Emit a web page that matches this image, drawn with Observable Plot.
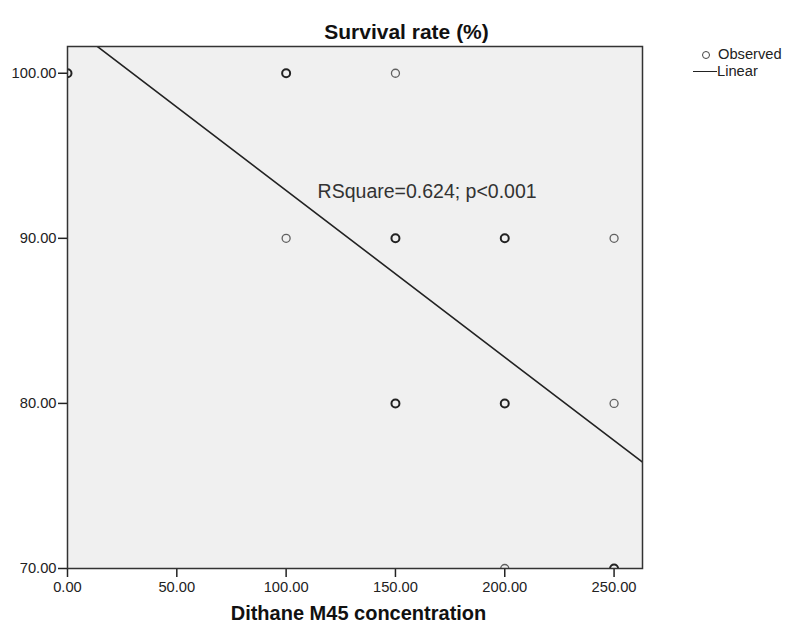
<!DOCTYPE html>
<html><head><meta charset="utf-8">
<script src="https://cdn.jsdelivr.net/npm/d3@7"></script>
<script src="https://cdn.jsdelivr.net/npm/@observablehq/plot@0.6"></script>
<style>
body{margin:0;background:#fff;font-family:"Liberation Sans",Arial,sans-serif;}
#wrap{position:relative;width:790px;height:628px;}
#legend{position:absolute;left:693px;top:46px;font-size:14.7px;color:#222;line-height:17px;}
#legend .row{display:flex;align-items:center;height:17px;}
#legend .c{width:8px;height:8px;border:1.3px solid #444;border-radius:50%;box-sizing:border-box;margin-left:9px;margin-right:8px;}
#legend .l{width:24px;border-top:1.5px solid #222;margin-right:0px;}
</style></head>
<body><div id="wrap"><div id="legend"><div class="row"><span class="c"></span>Observed</div><div class="row"><span class="l"></span>Linear</div></div></div>
<script>
// Observed points (concentration, survival %, number of overlapping observations)
const conc     = [0,   100, 150, 100, 150, 200, 250, 150, 200, 250, 200, 250];
const survival = [100, 100, 100, 90,  90,  90,  90,  80,  80,  80,  70,  70];
const count    = [2,   2,   1,   1,   2,   2,   1,   2,   2,   1,   1,   2];
// Linear fit
const intercept = 103.0, slope = -0.101;
const fitX = [0, 263];
const xTicks = [0, 50, 100, 150, 200, 250];
const yTicks = [70, 80, 90, 100];
const annotation = {x: 114.4, y: 92.83, text: "RSquare=0.624; p<0.001"};
const title = "Survival rate (%)";
const xLabel = "Dithane M45 concentration";

const pts = conc.map((c, i) => ({x: c, y: survival[i], n: count[i]}));
const fit = fitX.map(x => ({x, y: intercept + slope * x}));
const font = '"Liberation Sans", Arial, sans-serif';

const chart = Plot.plot({
  width: 790, height: 628,
  marginLeft: 67, marginRight: 148, marginTop: 46, marginBottom: 60,
  style: {fontFamily: font, background: "transparent", color: "#222"},
  x: {domain: [0, 263], ticks: xTicks, tickFormat: d => d.toFixed(2), tickSize: 9, tickPadding: 4, label: null},
  y: {domain: [70, 101.62], ticks: yTicks, tickFormat: d => d.toFixed(2), tickSize: 9, tickPadding: 2, label: null},
  marks: [
    Plot.frame({fill: "#f0f0f0"}),
    Plot.axisX({ticks: xTicks, tickFormat: d => d.toFixed(2), tickSize: 9, tickPadding: 4, fontSize: 14.7, stroke: "#222", strokeWidth: 1.5, label: null}),
    Plot.axisY({ticks: yTicks, tickFormat: d => d.toFixed(2), tickSize: 9, tickPadding: 2, fontSize: 14.7, stroke: "#222", strokeWidth: 1.5, label: null}),
    Plot.line(fit, {x: "x", y: "y", stroke: "#222", strokeWidth: 1.6, clip: "frame"}),
    Plot.dot(pts, {x: "x", y: "y", r: 4, fill: "none", stroke: d => d.n > 1 ? "#222" : "#606060", strokeWidth: d => d.n > 1 ? 2 : 1.3, clip: "frame"}),
    Plot.text([annotation], {x: "x", y: "y", text: "text", textAnchor: "start", fontSize: 19.5, fill: "#333"}),
    Plot.frame({stroke: "#333", strokeWidth: 1.5}),
    Plot.text([title], {frameAnchor: "top", dx: 51.5, dy: -22, fontSize: 21, fontWeight: "bold", fill: "#111"}),
    Plot.text([xLabel], {frameAnchor: "bottom", dx: 3.5, dy: 51, fontSize: 20, fontWeight: "bold", fill: "#111"})
  ]
});
document.getElementById("wrap").prepend(chart);
chart.style.position = "absolute"; chart.style.left = "0"; chart.style.top = "0";
</script></body></html>
